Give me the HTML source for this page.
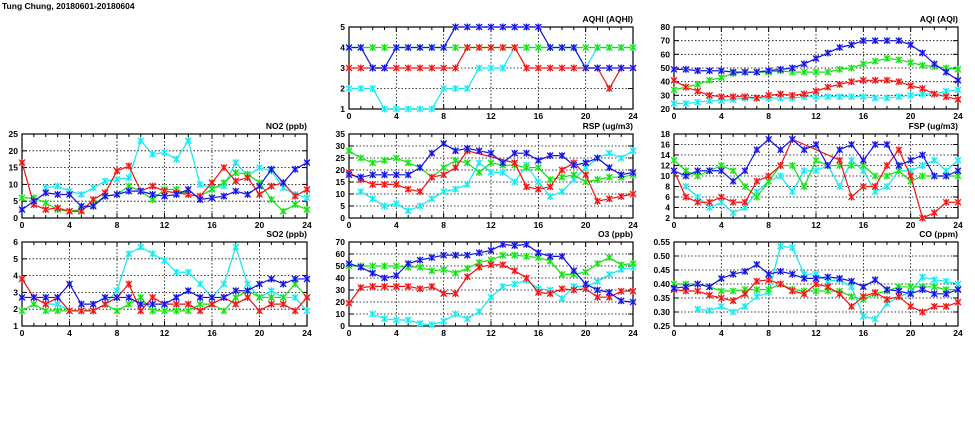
<!DOCTYPE html>
<html><head><meta charset="utf-8"><style>
body{margin:0;background:#fff;width:975px;height:447px;overflow:hidden}
svg{display:block}
text{font-family:"Liberation Sans",sans-serif;font-weight:bold;font-size:8.5px;fill:#000}
</style></head><body>
<svg id="s" width="975" height="447" xmlns="http://www.w3.org/2000/svg">
<text x="2" y="9" style="font-size:8.5px">Tung Chung, 20180601-20180604</text>
</svg>
<script>
const n=null;
const P=[
{t:"AQHI (AQHI)",x:349,y:27,w:284,h:82,min:1,max:5,st:1,d:0,s:[
[4,4,3,3,4,4,4,4,4,5,5,5,5,5,5,5,5,4,4,4,3,3,3,3,3],
[4,4,4,4,4,4,4,4,4,4,4,4,4,4,4,4,4,4,4,4,4,4,4,4,4],
[3,3,3,3,3,3,3,3,3,3,4,4,4,4,4,3,3,3,3,3,3,3,2,3,3],
[2,2,2,1,1,1,1,1,2,2,2,3,3,3,4,4,4,4,4,4,3,4,4,4,4]]},
{t:"AQI (AQI)",x:674,y:27,w:284,h:82,min:20,max:80,st:10,d:0,s:[
[49,49,48,48,48,47,47,47,48,49,50,53,57,61,65,67,70,70,70,70,67,61,53,47,41],
[34,36,38,41,43,46,47,47,47,48,47,47,47,47,49,50,53,55,57,56,54,52,51,50,49],
[41,36,33,30,29,29,29,28,30,31,30,31,33,36,38,40,41,41,41,40,37,35,31,29,27],
[24,24,25,26,26,27,28,28,28,28,28,29,29,29,29,29,29,28,28,29,30,31,31,33,34]]},
{t:"NO2 (ppb)",x:22,y:134,w:285,h:84,min:0,max:25,st:5,d:0,s:[
[2.5,5,7.5,7,7,3.5,3.5,6.5,7,8,8,7,6.5,7,8.5,5.5,6,6.5,8,7,9.5,14.5,10.5,14.5,16.5],
[6,6,4.5,2.5,2,2.5,4,6.5,7,9.5,8,5.5,8.5,8.5,7,6.5,8.5,10.5,13.5,13,10.5,5.5,2,4,2.5],
[16.5,4,2.5,3,2,2,5.5,7.5,14,15.5,8,9.5,8,7.5,7,6.5,10.5,15,11,12,7,9.5,10.5,6.5,8.5],
[n,n,9,9.5,8,7,9,11,11.5,12,23,19,19.5,17.5,23,10,9,9.5,16.5,12.5,15,14,9,7,6]]},
{t:"RSP (ug/m3)",x:349,y:134,w:284,h:84,min:0,max:35,st:5,d:0,s:[
[18,17,18,18,18,18,21,27,31,28,29,28,27,23,27,27,24,26,26,22,23,25,21,18,19],
[28,25,23,24,25,23,21,17,21,24,23,19,23,22,22,21,21,16,17,18,15,16,17,17,18],
[19,16,14,14,14,12,11,17,18,21,28,n,n,n,23,13,12,13,20,23,18,7,8,9,10],
[n,11,8,5,6,3,5,8,11,12,14,23,19,19,15,22,15,9,11,16,21,25,27,25,28]]},
{t:"FSP (ug/m3)",x:674,y:134,w:284,h:84,min:2,max:18,st:2,d:0,s:[
[11,10,11,11,11,9,11,15,17,15,17,15,16,12,15,16,13,16,16,12,13,14,10,10,11],
[13,11,10,11,12,11,8,6,9,12,12,8,13,12,12,12,12,10,10,11,9,10,10,10,10],
[11,6,5,5,6,5,5,9,10,12,17,n,n,n,13,6,8,8,12,15,10,2,3,5,5],
[n,8,6,4,5,3,4,7,9,10,7,11,11,12,8,13,11,7,8,11,11,12,13,11,13]]},
{t:"SO2 (ppb)",x:22,y:242,w:285,h:84,min:1,max:6,st:1,d:0,s:[
[2.7,2.7,2.7,2.7,3.5,2.3,2.3,2.7,2.7,2.7,2.3,2.3,2.3,2.7,3.1,2.7,2.7,2.7,3.1,3.1,3.5,3.8,3.5,3.8,3.8],
[1.9,2.3,1.9,1.9,1.9,1.9,1.9,2.3,1.9,2.3,2.7,1.9,1.9,1.9,1.9,2.3,2.3,1.9,2.7,3.1,2.7,2.7,2.7,3.5,2.7],
[3.8,2.7,2.3,2.7,1.9,1.9,1.9,2.3,2.7,3.5,1.9,2.7,2.3,2.3,2.3,1.9,2.3,2.7,2.3,2.7,1.9,2.3,2.3,1.9,2.7],
[n,n,2.3,2.3,1.9,1.9,1.9,2.3,3.1,5.3,5.7,5.3,4.9,4.2,4.2,3.5,2.7,3.5,5.7,3.5,2.7,3.1,2.7,2.7,1.9]]},
{t:"O3 (ppb)",x:349,y:242,w:284,h:84,min:0,max:70,st:10,d:0,s:[
[52,49,44,40,42,52,55,57,59,59,59,61,63,68,67,68,61,58,58,46,35,30,28,21,20],
[50,50,50,50,50,49,49,46,47,44,48,53,55,59,59,58,57,54,43,43,45,52,57,51,52],
[19,32,33,33,33,33,31,33,27,27,41,49,51,51,46,40,28,27,31,30,31,24,24,29,29],
[n,n,10,6,5,5,2,1,4,10,6,12,24,33,35,38,31,30,23,33,33,37,43,47,49]]},
{t:"CO (ppm)",x:674,y:242,w:284,h:84,min:0.25,max:0.55,st:0.05,d:2,s:[
[.385,.39,.40,.39,.42,.435,.445,.47,.435,.445,.435,.42,.42,.425,.42,.41,.39,.415,.38,.375,.365,.38,.365,.365,.38],
[.40,.40,.40,.39,.375,.375,.38,.38,.38,.40,.38,.375,.375,.375,.375,.355,.345,.365,.375,.39,.39,.39,.39,.38,.38],
[.38,.375,.375,.36,.35,.34,.365,.41,.415,.40,.375,.365,.40,.39,.365,.32,.355,.37,.345,.355,.32,.30,.32,.32,.335],
[n,n,.31,.305,.32,.30,.32,.355,.37,.535,.53,.435,.435,.41,.415,.39,.285,.275,.33,.355,.37,.425,.415,.41,.40]]}
];
const C=["#1010e0","#10e010","#f01010","#10e8f0"];
const M=["#8888ff","#90ff90","#ff9090","#a0ffff"];
const ORDER=[3,1,2,0];
let h="";
for(const p of P){
 const X=i=>p.x+p.w*i/24, Y=v=>p.y+p.h*(1-(v-p.min)/(p.max-p.min));
 const nt=Math.round((p.max-p.min)/p.st);
 for(let k=0;k<=nt;k++){const v=p.min+k*p.st,y=Y(v);
  if(k>0&&k<nt)h+=`<line x1="${p.x}" x2="${p.x+p.w}" y1="${y}" y2="${y}" stroke="#000" stroke-width="0.8" stroke-dasharray="1.5,2"/>`;
  h+=`<line x1="${p.x}" x2="${p.x+5}" y1="${y}" y2="${y}" stroke="#000"/><line x1="${p.x+p.w-5}" x2="${p.x+p.w}" y1="${y}" y2="${y}" stroke="#000"/>`;
  h+=`<text x="${p.x-4}" y="${y+3}" text-anchor="end">${v.toFixed(p.d)}</text>`;}
 for(let i=0;i<=24;i++){const x=X(i),L=i%4==0?5:3;
  if(i%4==0&&i>0&&i<24)h+=`<line x1="${x}" x2="${x}" y1="${p.y}" y2="${p.y+p.h}" stroke="#000" stroke-width="0.8" stroke-dasharray="1.5,2"/>`;
  h+=`<line x1="${x}" x2="${x}" y1="${p.y+p.h}" y2="${p.y+p.h-L}" stroke="#000"/><line x1="${x}" x2="${x}" y1="${p.y}" y2="${p.y+L}" stroke="#000"/>`;
  if(i%4==0)h+=`<text x="${x}" y="${p.y+p.h+10}" text-anchor="middle">${i}</text>`;}
 h+=`<rect x="${p.x}" y="${p.y}" width="${p.w}" height="${p.h}" fill="none" stroke="#000" stroke-width="1.2"/>`;
 h+=`<text x="${p.x+p.w}" y="${p.y-5}" text-anchor="end">${p.t}</text>`;
 for(const j of ORDER){const s=p.s[j];let pts=[];s.forEach((v,i)=>{if(v!==null)pts.push([X(i),Y(Math.max(p.min,Math.min(p.max,v)))])});
  h+=`<polyline fill="none" stroke="${C[j]}" stroke-width="1.2" points="${pts.map(q=>q.join(',')).join(' ')}"/>`;
  for(const [x,y] of pts){h+=`<rect x="${x-2.5}" y="${y-2.5}" width="5" height="5" fill="${M[j]}"/><path d="M${x-3},${y-3}L${x+3},${y+3}M${x-3},${y+3}L${x+3},${y-3}M${x},${y-3.5}V${y+3.5}" stroke="${C[j]}" stroke-width="1.2"/>`;}
 }
}
document.getElementById("s").insertAdjacentHTML("beforeend",h);
</script>
</body></html>
